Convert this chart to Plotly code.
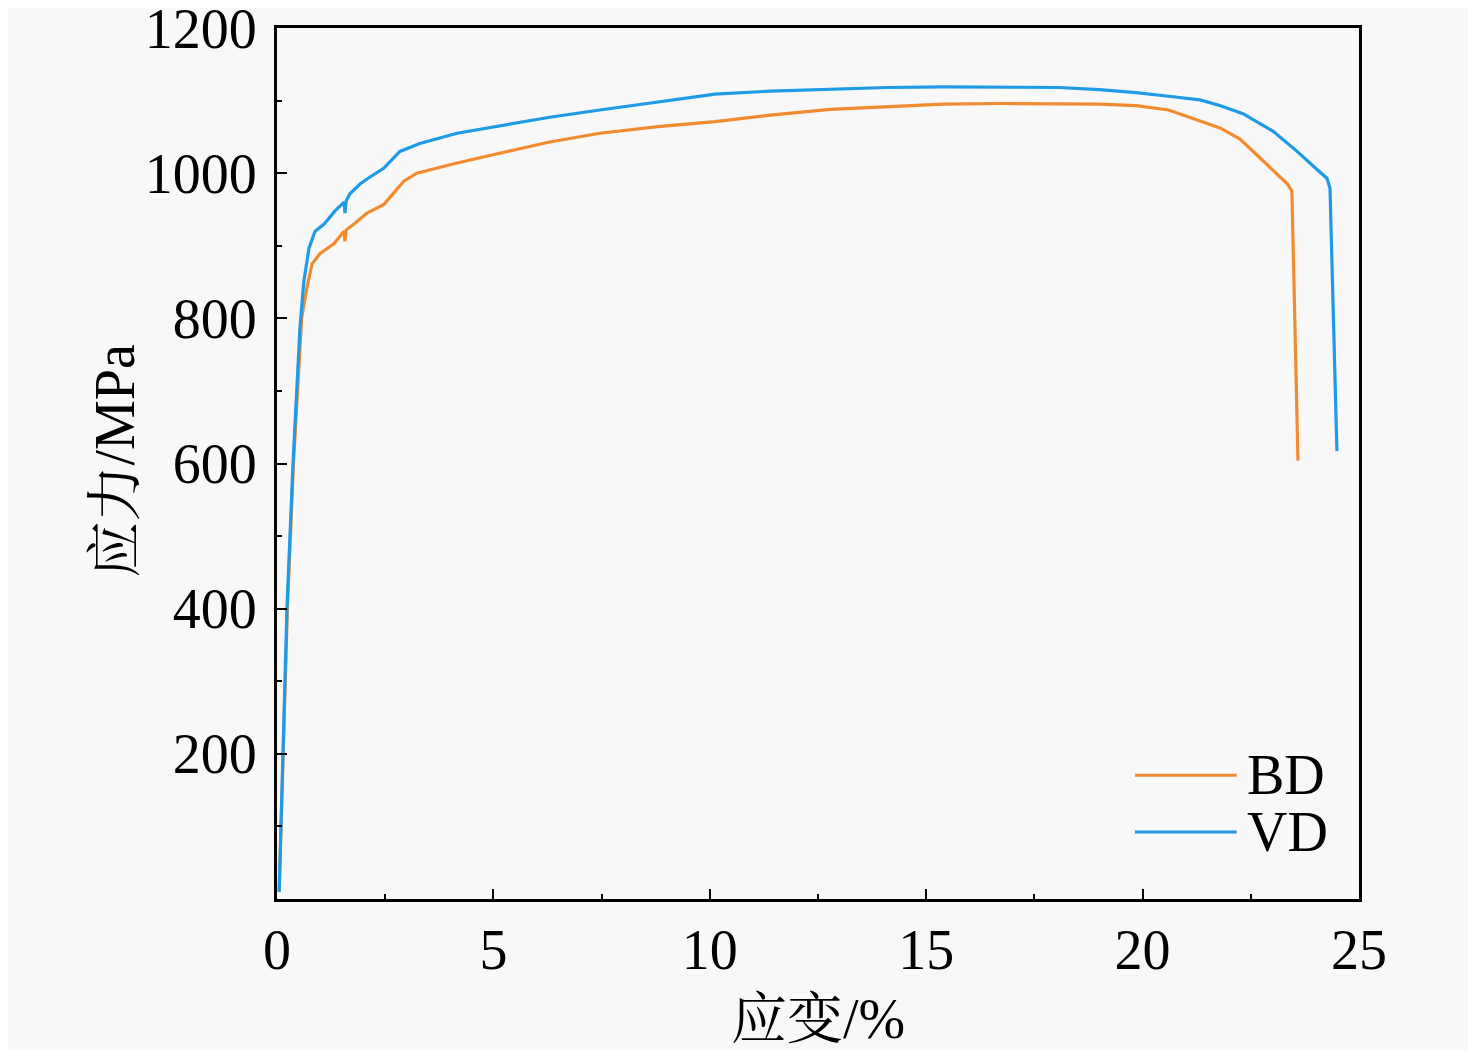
import plotly.graph_objects as go

# strain (%) / stress (MPa)
bd_strain = [0.05, 0.15, 0.24, 0.38, 0.57, 0.69, 0.81, 0.99, 1.32, 1.55, 1.57, 1.60,
             1.78, 2.08, 2.47, 2.93, 3.23, 4.16, 5.22, 6.3, 7.46, 8.8, 10.12, 11.4,
             12.78, 14.1, 15.41, 16.7, 18.07, 19.0, 19.85, 20.6, 21.33, 21.8, 22.25,
             22.78, 23.22, 23.35, 23.45, 23.59]
bd_stress = [10, 200, 400, 600, 800, 842, 875, 889, 903, 920, 906, 922,
             930, 945, 957, 989, 1000, 1014, 1028, 1043, 1055, 1064, 1071, 1080,
             1088, 1092, 1095, 1096, 1095, 1095, 1093, 1087, 1072, 1062, 1047,
             1017, 993, 985, 975, 604]

vd_strain = [0.05, 0.14, 0.23, 0.37, 0.53, 0.62, 0.74, 0.88, 1.09, 1.34, 1.55, 1.57,
             1.60, 1.69, 1.92, 2.08, 2.47, 2.84, 3.30, 4.16, 5.22, 6.3, 7.46, 8.8,
             10.12, 11.4, 12.78, 14.1, 15.41, 16.7, 18.07, 19.0, 19.85, 20.6, 21.33,
             21.8, 22.32, 23.01, 23.57, 24.03, 24.26, 24.33, 24.49]
vd_stress = [10, 200, 400, 600, 787, 851, 897, 920, 930, 948, 960, 945,
             962, 972, 985, 992, 1007, 1030, 1041, 1055, 1066, 1077, 1087, 1098,
             1109, 1113, 1116, 1118, 1119, 1119, 1118, 1115, 1111, 1106, 1101,
             1093, 1082, 1058, 1030, 1005, 993, 979, 617]

x_ticks = [0, 5, 10, 15, 20, 25]
y_ticks = [200, 400, 600, 800, 1000, 1200]

names = ["BD", "VD"]
colors = ["#F28A30", "#1F9AE6"]

FONT = "Times New Roman, Liberation Serif, Noto Serif CJK SC, Noto Sans CJK SC"
FS = 56

fig = go.Figure()
fig.add_trace(go.Scatter(x=bd_strain, y=bd_stress, mode="lines", name=names[0],
                         line=dict(color=colors[0], width=3.2), showlegend=False))
fig.add_trace(go.Scatter(x=vd_strain, y=vd_stress, mode="lines", name=names[1],
                         line=dict(color=colors[1], width=3.2), showlegend=False))

# legend drawn by hand so the sample lines are as long as in the original
leg_y = [0.142, 0.077]
for name, col, yy in zip(names, colors, leg_y):
    fig.add_shape(type="line", xref="paper", yref="paper",
                  x0=0.793, x1=0.887, y0=yy, y1=yy,
                  line=dict(color=col, width=3))
    fig.add_annotation(text=name, xref="paper", yref="paper", x=0.895, y=yy,
                       xanchor="left", yanchor="middle", showarrow=False,
                       height=52, valign="middle",
                       font=dict(size=FS, color="black", family=FONT))

# y title as an annotation to sit closer to the tick labels
fig.add_annotation(text="应力/MPa", xref="paper", yref="paper", x=-0.15, y=0.503,
                   xanchor="center", yanchor="middle", textangle=-90, showarrow=False,
                   font=dict(size=FS, color="black", family=FONT))

axis_style = dict(
    showline=True, linecolor="black", linewidth=3, mirror=True,
    ticks="inside", ticklen=10, tickwidth=2, tickcolor="black",
    showgrid=False, zeroline=False, ticklabeloverflow="allow", automargin=False,
    tickfont=dict(size=FS, color="black", family=FONT),
)

fig.update_xaxes(range=[0, 25], tickvals=x_ticks,
                 minor=dict(dtick=2.5, ticks="inside", ticklen=5, tickwidth=2, tickcolor="black"),
                 title=dict(text="应变/%", font=dict(size=FS, color="black", family=FONT), standoff=23),
                 **axis_style)
fig.update_yaxes(range=[0, 1200], tickvals=y_ticks, ticklabelstandoff=6,
                 minor=dict(dtick=100, ticks="inside", ticklen=5, tickwidth=2, tickcolor="black"),
                 **axis_style)

# page body adds ~8px offset, so the figure is a bit smaller than the window
fig.update_layout(
    width=1460, height=1042,
    margin=dict(l=269, r=109, t=20, b=151),
    paper_bgcolor="#F8F8F8", plot_bgcolor="#F8F8F8",
    font=dict(family=FONT, color="black"),
)

fig.write_html("out.html")
